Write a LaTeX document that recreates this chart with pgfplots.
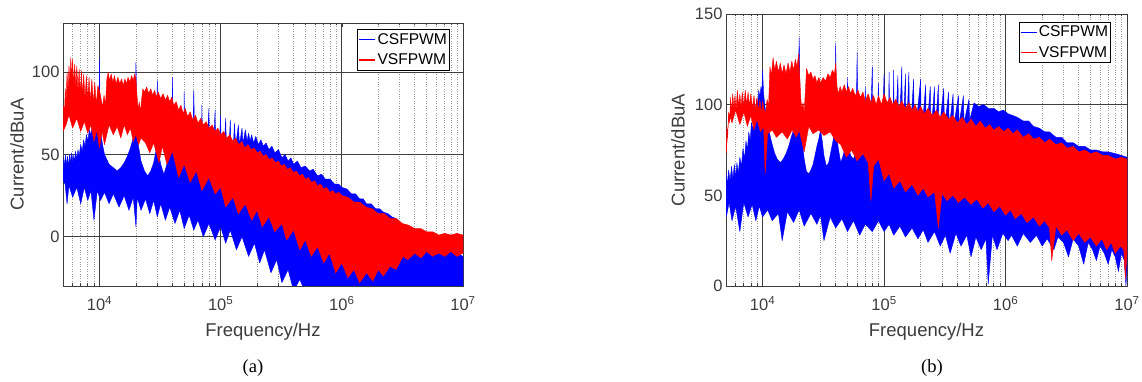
\documentclass[border=0pt]{standalone}
\usepackage{pgfplots}
\pgfplotsset{compat=1.18}
\usepackage{fontspec}
\setmainfont{Liberation Sans}
\newfontfamily\capfont{Liberation Serif}
\definecolor{axcol}{RGB}{60,60,60}
\definecolor{mblue}{RGB}{0,0,255}
\definecolor{mred}{RGB}{255,0,0}
\pgfplotsset{
  emc/.style={
    scale only axis, anchor=south west,
    xmin=5000, xmax=1e7,
    xtick={1e4,1e5,1e6,1e7},
    xticklabels={10\textsuperscript{4},10\textsuperscript{5},10\textsuperscript{6},10\textsuperscript{7}},
    minor xtick={6000,7000,8000,9000,2e4,3e4,4e4,5e4,6e4,7e4,8e4,9e4,2e5,3e5,4e5,5e5,6e5,7e5,8e5,9e5,2e6,3e6,4e6,5e6,6e6,7e6,8e6,9e6},
    xmajorgrids, xminorgrids, ymajorgrids,
    major grid style={color=black!75, line width=0.7pt},
    minor grid style={color=black!40, dotted, line width=0.6pt},
    tick align=inside,
    major tick length=4pt, minor tick length=2.5pt,
    every tick/.style={color=axcol, line width=0.6pt},
    axis line style={color=axcol, line width=0.8pt},
    /pgf/number format/assume math mode=true,
    tick label style={font=\fontsize{16.5}{20}\selectfont, text=axcol},
    every x tick label/.append style={yshift=-7pt},
    label style={font=\fontsize{18.5}{22}\selectfont, text=axcol},
    xlabel={Frequency/Hz}, ylabel={Current/dBuA},
    legend cell align=left,
    legend style={font=\fontsize{15.6}{18}\selectfont, draw=black, line width=0.8pt,
      inner xsep=1pt, inner ysep=3pt, row sep=6pt, fill=white, anchor=north east,
      nodes={inner xsep=1.5pt, inner ysep=1pt}},
  },
  bluefill/.style={draw=mblue, fill=mblue, line width=0.4pt, line join=round,
    legend image code/.code={\draw[draw=mblue, line width=1.3pt] (0pt,0pt) -- (16pt,0pt);}},
  redfill/.style={draw=mred, fill=mred, line width=0.4pt, line join=round,
    legend image code/.code={\draw[draw=mred, line width=1.3pt] (0pt,0pt) -- (16pt,0pt);}},
}
\begin{document}
\begin{tikzpicture}[x=1pt,y=1pt]
\useasboundingbox (0,0) rectangle (1142,382);
% ---------------- (a) ----------------
\begin{axis}[xmode=log, emc, at={(63pt,96pt)}, width=400pt, height=263pt,
  ymin=-30, ymax=130, ytick={0,50,100},
  xlabel style={at={(axis description cs:0.5,-0.175)}, anchor=center},
  ylabel style={at={(axis description cs:-0.115,0.5)}, anchor=center},
  legend style={at={(axis description cs:0.967,0.977)}}]
\addplot[bluefill] coordinates {
(5000,36) (5080,48) (5160,42) (5250,50) (5350,43) (5450,49) (5550,42) (5650,50) (5750,44) (5850,51) (5950,45) (6050,50) (6200,46) (6350,52) (6500,47) (6650,53) (6800,49) (7000,56) (7200,52) (7400,59) (7600,55) (7800,62) (8000,58) (8250,65) (8500,62) (8750,68) (9000,65) (9300,70) (9600,67) (9900,70) (1e4,109) (1.01e4,69) (1.03e4,62) (1.06e4,56) (1.1e4,50) (1.15e4,47) (1.2e4,44) (1.3e4,42) (1.4e4,40) (1.5e4,42) (1.6e4,45) (1.7e4,49) (1.8e4,54) (1.9e4,60) (1.97e4,66) (2e4,106) (2.03e4,64) (2.1e4,55) (2.2e4,46) (2.35e4,40) (2.5e4,37) (2.65e4,40) (2.8e4,45) (2.92e4,52) (3e4,95) (3.05e4,53) (3.2e4,44) (3.4e4,38) (3.6e4,44) (3.8e4,52) (3.95e4,60) (4e4,97) (4.05e4,58) (4.2e4,47) (4.4e4,41) (4.6e4,43) (4.8e4,47) (4.95e4,50) (5e4,88) (5.05e4,48) (5.3e4,42) (5.6e4,41) (5.85e4,44) (6e4,89) (6.15e4,44) (6.5e4,42) (6.9e4,44) (7e4,80) (7.1e4,44) (7.6e4,43) (8e4,78) (8.1e4,44) (8.6e4,44) (9e4,77) (9.1e4,45) (9.6e4,46) (1e5,74) (1.01e5,47) (1.06e5,49) (1.1e5,72) (1.12e5,50) (1.17e5,52) (1.2e5,71) (1.22e5,53) (1.27e5,54) (1.3e5,69) (1.33e5,55) (1.4e5,68) (1.43e5,56) (1.5e5,66) (1.53e5,57) (1.6e5,65) (1.65e5,58) (1.7e5,63) (1.75e5,58) (1.8e5,62) (1.87e5,57) (1.95e5,61) (2.05e5,56) (2.15e5,59) (2.25e5,55) (2.37e5,57) (2.5e5,53) (2.65e5,55) (2.8e5,51) (3e5,53) (3.2e5,48) (3.4e5,50) (3.6e5,46) (3.8e5,48) (4e5,44) (4.3e5,46) (4.6e5,42) (5e5,43) (5.4e5,40) (5.8e5,41) (6.3e5,37) (6.8e5,38) (7.3e5,35) (8e5,35) (8.7e5,32) (9.4e5,32) (1e6,30) (1.1e6,29) (1.2e6,26) (1.3e6,26) (1.4e6,23) (1.5e6,23) (1.6e6,20) (1.75e6,20) (1.9e6,17) (2.05e6,17) (2.2e6,15) (2.4e6,14) (2.6e6,12) (2.8e6,11) (3e6,9) (3.2e6,0) (3.5e6,-5) (4e6,-6) (4.5e6,-4) (5e6,-5) (5.6e6,-4) (6.3e6,-6) (7e6,-7) (8e6,-9) (9e6,-10) (1e7,-12)
(1e7,-45) (5.5e5,-45) (5e5,-34) (4.5e5,-26) (4e5,-33) (3.6e5,-20) (3.2e5,-28) (2.9e5,-14) (2.6e5,-22) (2.3e5,-8) (2.1e5,-16) (1.9e5,-4) (1.7e5,-12) (1.5e5,0) (1.35e5,-8) (1.2e5,4) (1.1e5,-4) (1e5,6) (9e4,-2) (8e4,8) (7.2e4,0) (6.5e4,10) (6e4,4) (5.5e4,13) (5e4,5) (4.6e4,16) (4.2e4,8) (3.8e4,18) (3.5e4,10) (3.2e4,20) (3e4,12) (2.8e4,22) (2.6e4,14) (2.4e4,23) (2.2e4,16) (2.05e4,24) (2e4,6) (1.9e4,24) (1.75e4,16) (1.6e4,25) (1.45e4,18) (1.3e4,26) (1.2e4,20) (1.1e4,27) (1.02e4,22) (9600,28) (9000,10) (8500,28) (8000,22) (7500,30) (7000,20) (6500,30) (6000,24) (5600,31) (5400,20) (5200,32) (5000,34) (5000,36)
};
\addlegendentry{CSFPWM}
\addplot[redfill] coordinates {
(5000,64) (5070,80) (5140,74) (5220,90) (5300,82) (5400,100) (5500,88) (5600,104) (5700,94) (5800,109) (5900,96) (6000,108) (6120,92) (6250,105) (6380,90) (6500,104) (6650,88) (6800,102) (6950,86) (7100,101) (7250,85) (7400,99) (7600,84) (7800,98) (8000,83) (8200,97) (8400,82) (8650,96) (8900,81) (9150,94) (9400,80) (9700,92) (1e4,89) (1.03e4,84) (1.06e4,79) (1.09e4,86) (1.12e4,80) (1.15e4,96) (1.18e4,100) (1.21e4,95) (1.25e4,99) (1.29e4,94) (1.33e4,98) (1.37e4,93) (1.42e4,97) (1.47e4,93) (1.52e4,96) (1.57e4,92) (1.62e4,96) (1.67e4,93) (1.72e4,97) (1.78e4,94) (1.84e4,98) (1.9e4,95) (1.95e4,99) (2e4,96) (2.04e4,86) (2.08e4,78) (2.13e4,82) (2.18e4,76) (2.23e4,84) (2.28e4,90) (2.35e4,88) (2.45e4,91) (2.55e4,87) (2.65e4,90) (2.75e4,86) (2.85e4,89) (2.95e4,85) (3.05e4,88) (3.2e4,84) (3.35e4,87) (3.5e4,83) (3.65e4,86) (3.8e4,82) (3.95e4,85) (4.1e4,80) (4.3e4,82) (4.5e4,77) (4.7e4,80) (4.9e4,75) (5.1e4,78) (5.35e4,73) (5.6e4,76) (5.9e4,71) (6.2e4,74) (6.5e4,69) (6.85e4,72) (7.2e4,68) (7.6e4,70) (8e4,66) (8.5e4,68) (9e4,64) (9.5e4,66) (1e5,62) (1.06e5,64) (1.12e5,60) (1.19e5,62) (1.26e5,58) (1.33e5,60) (1.41e5,56) (1.5e5,58) (1.58e5,54) (1.68e5,56) (1.78e5,53) (1.89e5,54) (2e5,51) (2.12e5,52) (2.24e5,49) (2.37e5,50) (2.51e5,47) (2.66e5,48) (2.82e5,45) (3e5,46) (3.16e5,43) (3.35e5,44) (3.55e5,41) (3.76e5,42) (3.98e5,39) (4.22e5,40) (4.47e5,37) (4.73e5,38) (5.01e5,35) (5.3e5,36) (5.62e5,33) (5.96e5,34) (6.31e5,31) (6.68e5,32) (7.08e5,29) (7.5e5,30) (7.94e5,27) (8.41e5,28) (8.91e5,26) (9.44e5,27) (1e6,25) (1.12e6,24) (1.26e6,21) (1.41e6,21) (1.58e6,18) (1.78e6,17) (2e6,14) (2.24e6,14) (2.51e6,11) (2.82e6,11) (3.16e6,8) (3.55e6,7) (3.98e6,5) (4.47e6,5) (5.01e6,3) (5.62e6,3) (6.31e6,1) (7.08e6,2) (7.94e6,1) (8.91e6,2) (1e7,1)
(1e7,-10) (8.9e6,-12) (7.9e6,-9) (7.1e6,-12) (6.3e6,-10) (5.6e6,-12) (5e6,-9) (4.5e6,-13) (4e6,-10) (3.5e6,-14) (3.2e6,-12) (2.8e6,-20) (2.5e6,-18) (2.2e6,-24) (2e6,-20) (1.8e6,-27) (1.6e6,-22) (1.4e6,-28) (1.26e6,-20) (1.12e6,-25) (1e6,-16) (8.9e5,-22) (7.9e5,-10) (7.1e5,-16) (6.3e5,-6) (5.6e5,-12) (5e5,-2) (4.5e5,-8) (4e5,4) (3.5e5,-2) (3.2e5,8) (2.8e5,3) (2.5e5,12) (2.2e5,6) (2e5,16) (1.8e5,10) (1.6e5,20) (1.4e5,14) (1.26e5,24) (1.1e5,18) (1e5,30) (9e4,26) (8e4,36) (7e4,28) (6.3e4,40) (5.6e4,33) (5e4,44) (4.5e4,36) (4e4,52) (3.6e4,44) (3.3e4,55) (3.1e4,45) (2.8e4,57) (2.6e4,51) (2.4e4,57) (2.2e4,60) (2.1e4,56) (2e4,62) (1.9e4,58) (1.8e4,66) (1.7e4,62) (1.6e4,68) (1.5e4,60) (1.4e4,67) (1.3e4,62) (1.2e4,68) (1.1e4,56) (1.05e4,64) (1e4,54) (9500,65) (9000,58) (8500,68) (8000,63) (7500,70) (7000,64) (6500,72) (6000,66) (5600,74) (5300,68) (5000,64)
};
\addlegendentry{VSFPWM}
\end{axis}
% ---------------- (b) ----------------
\begin{axis}[xmode=log, emc, at={(726pt,96pt)}, width=401pt, height=272pt,
  ymin=0, ymax=150, ytick={0,50,100,150},
  xlabel style={at={(axis description cs:0.5,-0.169)}, anchor=center},
  ylabel style={at={(axis description cs:-0.12,0.5)}, anchor=center},
  legend style={at={(axis description cs:0.96,0.972)}}]
\addplot[bluefill] coordinates {
(5000,38) (5050,62) (5150,55) (5250,64) (5400,58) (5550,66) (5700,59) (5850,67) (6000,60) (6150,68) (6300,62) (6500,71) (6700,66) (6900,76) (7100,70) (7300,80) (7500,75) (7700,85) (7900,80) (8100,90) (8300,86) (8500,96) (8700,92) (8900,103) (9100,98) (9300,108) (9500,104) (9700,110) (9850,106) (1e4,119) (1.02e4,106) (1.05e4,98) (1.08e4,93) (1.12e4,87) (1.16e4,82) (1.2e4,78) (1.26e4,73) (1.32e4,70) (1.4e4,68) (1.48e4,70) (1.56e4,73) (1.64e4,77) (1.72e4,82) (1.8e4,86) (1.88e4,90) (1.95e4,94) (2e4,137) (2.05e4,90) (2.12e4,80) (2.2e4,70) (2.3e4,63) (2.4e4,62) (2.5e4,64) (2.6e4,67) (2.7e4,72) (2.8e4,77) (2.9e4,81) (3e4,86) (3.1e4,80) (3.2e4,72) (3.35e4,66) (3.5e4,68) (3.65e4,74) (3.8e4,80) (3.95e4,86) (4e4,134) (4.05e4,84) (4.2e4,76) (4.4e4,68) (4.6e4,72) (4.85e4,78) (4.95e4,80) (5e4,115) (5.05e4,79) (5.3e4,72) (5.6e4,70) (5.85e4,74) (6e4,129) (6.1e4,74) (6.5e4,72) (6.9e4,73) (7e4,110) (7.1e4,72) (7.6e4,72) (8e4,121) (8.1e4,72) (8.6e4,73) (9e4,112) (9.1e4,73) (9.6e4,74) (1e5,117) (1.01e5,74) (1.08e5,75) (1.1e5,118) (1.12e5,75) (1.18e5,76) (1.2e5,119) (1.22e5,76) (1.3e5,116) (1.32e5,77) (1.4e5,121) (1.42e5,78) (1.5e5,117) (1.52e5,78) (1.6e5,118) (1.63e5,79) (1.75e5,114) (1.78e5,80) (2e5,114) (2.03e5,81) (2.2e5,111) (2.23e5,82) (2.4e5,110) (2.43e5,83) (2.6e5,110) (2.63e5,84) (2.8e5,111) (2.83e5,85) (3.1e5,109) (3.14e5,86) (3.4e5,107) (3.44e5,87) (3.7e5,106) (3.74e5,88) (4.1e5,105) (4.14e5,89) (4.5e5,105) (4.55e5,90) (5e5,103) (5.05e5,91) (5.5e5,101) (6e5,99) (6.6e5,100) (7.2e5,98) (8e5,98) (8.8e5,96) (9.6e5,97) (1.05e6,95) (1.15e6,94) (1.25e6,93) (1.4e6,91) (1.55e6,91) (1.7e6,88) (1.9e6,87) (2.1e6,85) (2.3e6,85) (2.6e6,82) (2.9e6,82) (3.2e6,79) (3.6e6,79) (4e6,77) (4.5e6,77) (5e6,75) (5.6e6,75) (6.3e6,74) (7e6,74) (8e6,73) (9e6,72) (1e7,71)
(1e7,10) (9.8e6,0) (9.5e6,14) (9e6,18) (8.5e6,8) (8e6,16) (7.5e6,20) (7e6,12) (6.5e6,18) (6e6,22) (5.6e6,14) (5.2e6,20) (4.8e6,24) (4.4e6,12) (4e6,22) (3.6e6,26) (3.3e6,16) (3e6,24) (2.7e6,27) (2.5e6,20) (2.2e6,26) (2e6,22) (1.8e6,28) (1.6e6,24) (1.4e6,29) (1.25e6,22) (1.12e6,28) (1.05e6,25) (9.5e5,29) (8.5e5,20) (7.8e5,28) (7.2e5,1) (6.9e5,26) (6.3e5,20) (5.7e5,27) (5.2e5,16) (4.8e5,28) (4.3e5,22) (3.9e5,29) (3.5e5,18) (3.2e5,28) (2.9e5,22) (2.6e5,30) (2.3e5,24) (2.1e5,31) (1.9e5,26) (1.7e5,32) (1.5e5,27) (1.35e5,33) (1.2e5,28) (1.1e5,34) (1e5,30) (9e4,36) (8e4,30) (7e4,34) (6.3e4,28) (5.6e4,36) (5e4,30) (4.5e4,37) (4e4,32) (3.6e4,38) (3.2e4,25) (3e4,39) (2.8e4,34) (2.5e4,40) (2.2e4,33) (2e4,42) (1.8e4,35) (1.6e4,41) (1.45e4,25) (1.35e4,40) (1.2e4,36) (1.1e4,42) (1e4,38) (9400,44) (8800,36) (8200,45) (7600,38) (7000,46) (6500,30) (6000,44) (5600,36) (5300,46) (5100,40) (5000,38)
};
\addlegendentry{CSFPWM}
\addplot[redfill] coordinates {
(5000,72) (5080,88) (5160,82) (5250,96) (5350,90) (5450,104) (5560,96) (5680,106) (5800,98) (5920,105) (6050,97) (6200,108) (6350,99) (6500,106) (6650,98) (6800,107) (7000,99) (7200,108) (7400,100) (7600,107) (7800,99) (8000,106) (8250,98) (8500,105) (8750,97) (9000,104) (9250,96) (9500,103) (9750,95) (1e4,102) (1.03e4,97) (1.06e4,96) (1.09e4,103) (1.12e4,99) (1.15e4,121) (1.18e4,116) (1.22e4,126) (1.26e4,119) (1.3e4,124) (1.35e4,118) (1.4e4,123) (1.45e4,117) (1.5e4,122) (1.56e4,117) (1.62e4,123) (1.68e4,118) (1.74e4,124) (1.8e4,119) (1.86e4,125) (1.92e4,121) (1.98e4,128) (2.02e4,116) (2.06e4,104) (2.1e4,98) (2.15e4,101) (2.2e4,96) (2.26e4,110) (2.3e4,120) (2.4e4,116) (2.5e4,118) (2.6e4,114) (2.7e4,116) (2.8e4,112) (2.9e4,115) (3e4,112) (3.15e4,115) (3.3e4,113) (3.45e4,117) (3.6e4,115) (3.75e4,119) (3.9e4,117) (4e4,123) (4.1e4,110) (4.2e4,106) (4.35e4,110) (4.5e4,107) (4.7e4,111) (4.9e4,107) (5.1e4,110) (5.3e4,106) (5.5e4,109) (5.8e4,105) (6.1e4,108) (6.4e4,104) (6.7e4,107) (7e4,102) (7.4e4,106) (7.8e4,101) (8.2e4,105) (8.6e4,100) (9e4,105) (9.5e4,100) (1e5,106) (1.06e5,101) (1.12e5,104) (1.18e5,100) (1.25e5,103) (1.32e5,99) (1.4e5,102) (1.5e5,98) (1.6e5,101) (1.7e5,97) (1.8e5,100) (1.9e5,96) (2e5,99) (2.15e5,95) (2.3e5,98) (2.5e5,94) (2.7e5,97) (2.9e5,93) (3.1e5,96) (3.4e5,92) (3.7e5,94) (4e5,90) (4.4e5,93) (4.8e5,89) (5.2e5,92) (5.7e5,88) (6.2e5,91) (6.8e5,87) (7.4e5,89) (8e5,86) (8.8e5,88) (9.6e5,85) (1.05e6,87) (1.15e6,84) (1.25e6,86) (1.4e6,82) (1.55e6,84) (1.7e6,81) (1.9e6,82) (2.1e6,79) (2.3e6,81) (2.6e6,78) (2.9e6,79) (3.2e6,76) (3.6e6,77) (4e6,74) (4.5e6,75) (5e6,73) (5.6e6,74) (6.3e6,72) (7e6,72) (8e6,70) (9e6,71) (1e7,70)
(1e7,18) (9.7e6,4) (9.4e6,20) (8.8e6,22) (8e6,18) (7.4e6,24) (6.8e6,20) (6.2e6,26) (5.6e6,22) (5e6,27) (4.5e6,24) (4e6,29) (3.6e6,25) (3.2e6,31) (2.9e6,28) (2.6e6,33) (2.4e6,14) (2.3e6,32) (2.1e6,36) (1.9e6,33) (1.7e6,38) (1.5e6,35) (1.35e6,40) (1.2e6,37) (1.1e6,42) (1e6,39) (9e5,44) (8e5,41) (7.2e5,46) (6.5e5,43) (5.8e5,48) (5.2e5,45) (4.6e5,49) (4.1e5,46) (3.7e5,50) (3.3e5,47) (3e5,51) (2.8e5,32) (2.6e5,52) (2.3e5,49) (2.1e5,54) (1.9e5,50) (1.7e5,56) (1.5e5,52) (1.35e5,58) (1.2e5,54) (1.1e5,62) (1e5,58) (9e4,70) (8.2e4,66) (7.8e4,47) (7.4e4,68) (6.7e4,73) (6e4,69) (5.4e4,75) (4.9e4,71) (4.4e4,78) (4e4,80) (3.6e4,85) (3.2e4,83) (2.9e4,86) (2.6e4,84) (2.4e4,88) (2.2e4,74) (2.1e4,80) (2e4,86) (1.9e4,82) (1.75e4,86) (1.6e4,81) (1.45e4,85) (1.3e4,82) (1.2e4,86) (1.1e4,84) (1.05e4,62) (1.02e4,88) (9600,85) (9000,92) (8500,86) (8000,94) (7500,88) (7000,96) (6500,89) (6000,97) (5600,90) (5300,95) (5000,72)
};
\addlegendentry{VSFPWM}
\end{axis}
\node[font=\capfont\fontsize{18.6}{22}\selectfont, anchor=center] at (253,14) {(a)};
\node[font=\capfont\fontsize{18.6}{22}\selectfont, anchor=center] at (932,14) {(b)};
\end{tikzpicture}
\end{document}
